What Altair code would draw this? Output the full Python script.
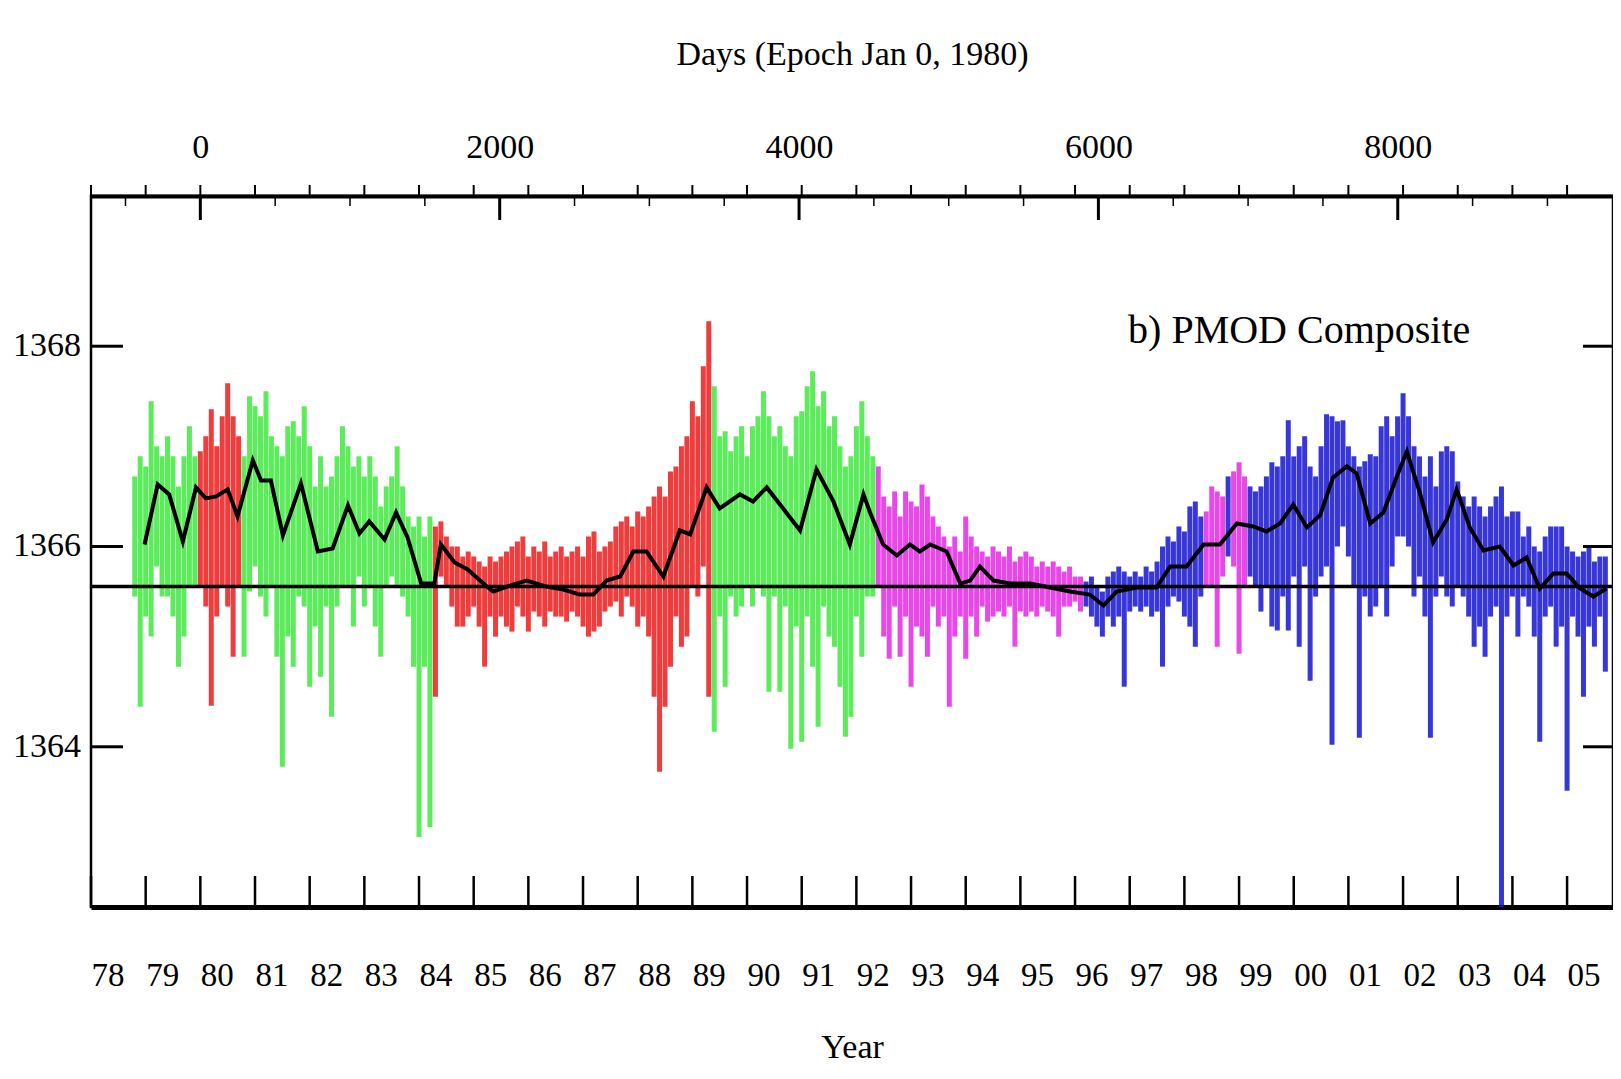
import altair as alt
import pandas as pd

# ---------------- data ----------------
# colored daily data, summarised as 0.1-year bins (start year 1978.8)
hi_vals = [
    1366.7, 1366.9,
    1366.8, 1367.45, 1367.0, 1366.9, 1367.1, 1366.9, 1366.6, 1366.9, 1367.2, 1366.9,      # 1979
    1366.95, 1367.1, 1367.37, 1367.0, 1367.3, 1367.63, 1367.3, 1367.1, 1366.9, 1367.5,    # 1980
    1367.4, 1367.3, 1367.55, 1367.1, 1367.0, 1366.9, 1367.2, 1367.25, 1367.1, 1367.4,     # 1981
    1367.0, 1366.6, 1366.9, 1366.6, 1366.7, 1366.9, 1367.2, 1367.0, 1366.8, 1366.9,       # 1982
    1366.7, 1366.9, 1366.7, 1366.4, 1366.6, 1366.7, 1367.0, 1366.6, 1366.3, 1366.2,       # 1983
    1366.3, 1366.1, 1366.3, 1366.2, 1366.25, 1366.1, 1366.0, 1366.0, 1365.9, 1365.95,     # 1984
    1365.9, 1365.85, 1365.8, 1365.9, 1365.85, 1365.9, 1365.95, 1366.0, 1366.05, 1366.1,   # 1985
    1365.9, 1366.0, 1365.95, 1366.05, 1365.9, 1365.95, 1366.0, 1365.9, 1365.95, 1366.0,   # 1986
    1365.9, 1366.1, 1366.15, 1365.95, 1366.0, 1366.05, 1366.2, 1366.25, 1366.3, 1366.2,   # 1987
    1366.35, 1366.3, 1366.4, 1366.5, 1366.6, 1366.5, 1366.75, 1366.8, 1367.0, 1367.1,     # 1988
    1367.45, 1367.3, 1367.8, 1368.25, 1367.6, 1367.1, 1367.15, 1366.95, 1367.1, 1367.2,   # 1989
    1366.9, 1367.2, 1367.3, 1367.55, 1367.3, 1367.1, 1367.2, 1367.0, 1366.9, 1367.3,      # 1990
    1367.35, 1367.6, 1367.75, 1367.4, 1367.55, 1367.2, 1367.3, 1367.0, 1366.8, 1366.9,    # 1991
    1367.2, 1367.45, 1367.1, 1366.9, 1366.8, 1366.5, 1366.4, 1366.55, 1366.3, 1366.55,    # 1992
    1366.45, 1366.4, 1366.62, 1366.5, 1366.3, 1366.2, 1366.1, 1366.0, 1366.1, 1365.95,   # 1993
    1366.3, 1366.1, 1366.0, 1365.95, 1365.9, 1366.0, 1365.95, 1365.9, 1366.0, 1365.85,    # 1994
    1365.9, 1365.95, 1365.9, 1365.8, 1365.85, 1365.8, 1365.85, 1365.8, 1365.75, 1365.8,   # 1995
    1365.7, 1365.7, 1365.65, 1365.7, 1365.6, 1365.55, 1365.7, 1365.75, 1365.8, 1365.75,   # 1996
    1365.7, 1365.75, 1365.7, 1365.8, 1365.75, 1365.85, 1366.0, 1366.1, 1366.05, 1366.2,   # 1997
    1366.15, 1366.4, 1366.45, 1366.3, 1366.35, 1366.6, 1366.55, 1366.5, 1366.7, 1366.75,  # 1998
    1366.84, 1366.7, 1366.6, 1366.55, 1366.6, 1366.7, 1366.84, 1366.8, 1366.9, 1367.26,  # 1999
    1366.9, 1367.0, 1367.1, 1366.8, 1366.7, 1367.0, 1367.32, 1367.3, 1367.25, 1367.26,    # 2000
    1367.0, 1366.9, 1366.8, 1366.85, 1366.92, 1366.9, 1367.2, 1367.3, 1367.1, 1367.3,     # 2001
    1367.53, 1367.3, 1367.0, 1366.9, 1366.7, 1366.9, 1366.6, 1366.95, 1367.0, 1366.95,    # 2002
    1366.65, 1366.5, 1366.4, 1366.5, 1366.4, 1366.3, 1366.4, 1366.5, 1366.6, 1366.3,      # 2003
    1366.35, 1366.35, 1366.1, 1366.2, 1366.0, 1365.95, 1366.1, 1366.2, 1366.2, 1366.2,    # 2004
    1366.0, 1365.95, 1365.9, 1365.95, 1366.0, 1365.85, 1365.9, 1365.9,                    # 2005
]
lo_vals = [
    1365.5, 1364.4,
    1365.3, 1365.1, 1365.8, 1365.5, 1365.5, 1365.3, 1364.8, 1365.1, 1365.6, 1365.6,
    1365.6, 1365.4, 1364.41, 1365.3, 1365.6, 1365.4, 1364.9, 1365.6, 1364.9, 1365.55,
    1365.8, 1365.5, 1365.3, 1365.6, 1364.9, 1363.8, 1365.1, 1364.8, 1365.5, 1365.4,
    1364.6, 1365.2, 1364.7, 1365.4, 1364.3, 1365.4, 1365.6, 1365.6, 1365.2, 1365.7,
    1365.4, 1365.6, 1365.2, 1364.9, 1365.6, 1365.7, 1365.6, 1365.5, 1365.3, 1364.8,
    1363.1, 1364.8, 1363.2, 1364.5, 1365.7, 1365.6, 1365.4, 1365.2, 1365.2, 1365.3,
    1365.4, 1365.2, 1364.8, 1365.3, 1365.1, 1365.3, 1365.2, 1365.15, 1365.4, 1365.3,
    1365.15, 1365.35, 1365.3, 1365.2, 1365.35, 1365.3, 1365.3, 1365.25, 1365.35, 1365.3,
    1365.2, 1365.1, 1365.15, 1365.2, 1365.35, 1365.4, 1365.45, 1365.3, 1365.5, 1365.4,
    1365.2, 1365.3, 1365.1, 1364.5, 1363.75, 1364.4, 1364.8, 1365.3, 1365.0, 1365.1,
    1365.6, 1365.5, 1365.8, 1364.5, 1364.15, 1365.3, 1364.6, 1365.5, 1365.3, 1365.4,
    1365.6, 1365.4, 1365.6, 1365.5, 1364.55, 1365.5, 1364.55, 1365.4, 1363.98, 1365.2,
    1364.05, 1365.3, 1364.8, 1364.2, 1365.4, 1365.1, 1365.0, 1364.6, 1364.1, 1364.3,
    1365.3, 1364.9, 1365.5, 1365.5, 1365.6, 1365.1, 1364.88, 1365.4, 1364.9, 1365.3,
    1364.6, 1365.2, 1365.1, 1364.9, 1365.4, 1365.2, 1365.3, 1364.4, 1365.1, 1365.3,
    1364.88, 1365.3, 1365.1, 1365.4, 1365.25, 1365.3, 1365.35, 1365.3, 1365.4, 1365.0,
    1365.35, 1365.3, 1365.35, 1365.3, 1365.4, 1365.35, 1365.3, 1365.1, 1365.4, 1365.4,
    1365.45, 1365.35, 1365.4, 1365.3, 1365.2, 1365.1, 1365.3, 1365.2, 1365.3, 1364.6,
    1365.35, 1365.4, 1365.35, 1365.4, 1365.3, 1365.35, 1364.8, 1365.4, 1365.5, 1365.45,
    1365.3, 1365.2, 1365.0, 1365.5, 1365.6, 1365.6, 1365.0, 1365.7, 1365.9, 1365.8,
    1364.93, 1365.6, 1365.7, 1365.6, 1365.35, 1365.6, 1365.2, 1365.16, 1365.5, 1365.16,
    1365.7, 1365.0, 1365.8, 1364.66, 1365.5, 1365.7, 1365.8, 1364.02, 1366.0, 1366.2,
    1365.9, 1365.6, 1364.09, 1365.5, 1365.3, 1365.4, 1365.6, 1365.3, 1365.8, 1366.1,
    1366.1, 1366.0, 1365.5, 1365.7, 1365.3, 1364.09, 1365.5, 1365.7, 1365.5, 1365.4,
    1365.6, 1365.5, 1365.3, 1365.0, 1365.2, 1364.9, 1365.3, 1365.4, 1362.4, 1365.3,
    1365.5, 1365.1, 1365.5, 1365.4, 1365.1, 1364.05, 1365.3, 1365.4, 1365.0, 1365.2,
    1363.56, 1365.3, 1365.1, 1364.5, 1365.2, 1365.0, 1365.3, 1364.75,
]
assert len(hi_vals) == len(lo_vals)
bin_years = [round(1978.8 + 0.1 * i, 2) for i in range(len(hi_vals))]

# instrument segments (start year, colour name)
seg_starts = [1978.8, 1980.05, 1980.85, 1984.35, 1989.45, 1992.45, 1996.15, 1998.45, 1998.85, 1998.95, 1999.15]
seg_names = ["green", "red", "green", "red", "green", "magenta", "blue", "magenta", "blue", "magenta", "blue"]
color_domain = ["green", "red", "magenta", "blue"]
color_range = ["#3ee83e", "#ec1a1a", "#e428e4", "#1414d2"]

# smoothed black curve
smooth_years = [
    1978.98, 1979.22, 1979.43, 1979.68, 1979.92, 1980.10, 1980.29, 1980.50, 1980.68, 1980.96,
    1981.11, 1981.29, 1981.51, 1981.84, 1982.15, 1982.42, 1982.70, 1982.91, 1983.09, 1983.37,
    1983.58, 1983.79, 1984.04, 1984.28, 1984.40, 1984.65, 1984.89, 1985.26, 1985.36, 1985.72,
    1985.97, 1986.33, 1986.64, 1986.94, 1987.19, 1987.43, 1987.68, 1987.92, 1988.16, 1988.47,
    1988.77, 1988.96, 1989.26, 1989.50, 1989.87, 1990.11, 1990.36, 1990.66, 1990.97, 1991.27,
    1991.58, 1991.88, 1992.13, 1992.25, 1992.49, 1992.74, 1992.98, 1993.16, 1993.35, 1993.65,
    1993.90, 1994.08, 1994.26, 1994.51, 1994.81, 1995.18, 1995.54, 1995.91, 1996.27, 1996.52,
    1996.76, 1997.13, 1997.49, 1997.74, 1998.04, 1998.35, 1998.65, 1998.96, 1999.26, 1999.50,
    1999.75, 1999.99, 2000.24, 2000.48, 2000.72, 2000.97, 2001.15, 2001.40, 2001.64, 2001.88,
    2002.07, 2002.31, 2002.55, 2002.80, 2002.98, 2003.22, 2003.47, 2003.77, 2004.02, 2004.26,
    2004.50, 2004.75, 2004.99, 2005.24, 2005.48, 2005.72,
]
smooth_vals = [
    1366.02, 1366.62, 1366.52, 1366.05, 1366.59, 1366.48, 1366.50, 1366.57, 1366.30, 1366.86,
    1366.66, 1366.66, 1366.11, 1366.63, 1365.95, 1365.98, 1366.41, 1366.13, 1366.25, 1366.07,
    1366.34, 1366.09, 1365.63, 1365.63, 1366.02, 1365.84, 1365.77, 1365.59, 1365.55, 1365.62,
    1365.66, 1365.60, 1365.57, 1365.52, 1365.52, 1365.66, 1365.70, 1365.95, 1365.95, 1365.70,
    1366.16, 1366.12, 1366.59, 1366.38, 1366.52, 1366.45, 1366.59, 1366.38, 1366.16, 1366.77,
    1366.45, 1366.02, 1366.52, 1366.34, 1366.02, 1365.91, 1366.02, 1365.95, 1366.02, 1365.95,
    1365.63, 1365.66, 1365.80, 1365.66, 1365.63, 1365.63, 1365.59, 1365.55, 1365.52, 1365.41,
    1365.55, 1365.59, 1365.59, 1365.80, 1365.80, 1366.02, 1366.02, 1366.23, 1366.20, 1366.15,
    1366.23, 1366.42, 1366.19, 1366.31, 1366.69, 1366.80, 1366.73, 1366.23, 1366.34, 1366.69,
    1366.95, 1366.53, 1366.04, 1366.27, 1366.57, 1366.19, 1365.96, 1366.00, 1365.81, 1365.89,
    1365.58, 1365.73, 1365.73, 1365.58, 1365.50, 1365.58,
]

ref_level = [1365.6]
y_ticks = [1364, 1366, 1368]
year_ticks = list(range(1978, 2006))
day_major = [0, 2000, 4000, 6000, 8000]
day_minor = [-500, 500, 1000, 1500, 2500, 3000, 3500, 4500, 5000, 5500, 6500, 7000, 7500, 8500, 9000]
label_text = ["b) PMOD Composite"]
label_year = [2000.1]
label_value = [1368.15]

# ---------------- tables ----------------
def seg_of(y):
    c = y + 0.05
    name = seg_names[0]
    for s, n in zip(seg_starts, seg_names):
        if c >= s:
            name = n
    return name

bins_df = pd.DataFrame({"year": bin_years, "lo": lo_vals, "hi": hi_vals,
                        "seg": [seg_of(y) for y in bin_years]})
smooth_df = pd.DataFrame({"year": smooth_years, "val": smooth_vals})
ref_df = pd.DataFrame({"v": ref_level})
yt_df = pd.DataFrame({"v": y_ticks})
yr_df = pd.DataFrame({"year": year_ticks})
dmaj_df = pd.DataFrame({"day": day_major})
dmin_df = pd.DataFrame({"day": day_minor})
lab_df = pd.DataFrame({"t": label_text, "year": label_year, "val": label_value})

W, H = 1522, 711
FONT = "Liberation Serif"
xs = alt.Scale(domain=[1978, 2005.84], nice=False, zero=False)
ys = alt.Scale(domain=[1362.4, 1369.5], nice=False, zero=False)

bottom_axis = alt.Axis(orient="bottom", values=year_ticks,
                       labelExpr="(datum.value % 100 < 10 ? '0' : '') + (datum.value % 100)",
                       labelAlign="left", labelBaseline="alphabetic", labelPadding=78,
                       labelFontSize=33, labelOverlap=False, labelFlush=False,
                       ticks=False, tickSize=0, grid=False, domainWidth=5,
                       title="Year", titleFontSize=34, titleY=150, titleBaseline="alphabetic")
top_axis = alt.Axis(orient="top", values=[1980 + d / 365.25 for d in day_major],
                    labelExpr="format(round((datum.value - 1980) * 365.25), 'd')",
                    labelBaseline="alphabetic", labelPadding=39, labelFontSize=34,
                    labelOverlap=False, labelFlush=False,
                    ticks=False, tickSize=0, grid=False, domainWidth=4,
                    title="Days (Epoch Jan 0, 1980)", titleFontSize=34, titleY=-132,
                    titleBaseline="alphabetic")

bins = alt.Chart(bins_df).mark_rule(strokeWidth=5, opacity=0.85).encode(
    x=alt.X("year:Q", scale=xs, axis=bottom_axis),
    y=alt.Y("lo:Q", scale=ys, axis=None),
    y2="hi:Q",
    color=alt.Color("seg:N", scale=alt.Scale(domain=color_domain, range=color_range), legend=None),
)

ref = alt.Chart(ref_df).mark_rule(color="black", strokeWidth=3.5).encode(
    y=alt.Y("v:Q", scale=ys, axis=None))

smooth = alt.Chart(smooth_df).mark_line(color="black", strokeWidth=4).encode(
    x=alt.X("year:Q", scale=xs, axis=None),
    y=alt.Y("val:Q", scale=ys, axis=None))

left_ticks = alt.Chart(yt_df).mark_rule(color="black", strokeWidth=3).encode(
    y=alt.Y("v:Q", scale=ys, axis=None), x=alt.value(0), x2=alt.value(32))
right_ticks = alt.Chart(yt_df).mark_rule(color="black", strokeWidth=3).encode(
    y=alt.Y("v:Q", scale=ys, axis=None), x=alt.value(W - 30), x2=alt.value(W))
left_labels = alt.Chart(yt_df).mark_text(font=FONT, fontSize=34, align="right",
                                         baseline="middle", color="black").encode(
    y=alt.Y("v:Q", scale=ys, axis=None), x=alt.value(-10),
    text=alt.Text("v:Q", format="d"))

bottom_ticks = alt.Chart(yr_df).mark_rule(color="black", strokeWidth=2.5).encode(
    x=alt.X("year:Q", scale=xs, axis=None), y=alt.value(H), y2=alt.value(H - 31))
top_year_ticks = alt.Chart(yr_df).mark_rule(color="black", strokeWidth=2).encode(
    x=alt.X("year:Q", scale=xs, axis=top_axis), y=alt.value(0), y2=alt.value(-11))
day_major_ticks = alt.Chart(dmaj_df).transform_calculate(
    yr="1980 + datum.day / 365.25").mark_rule(color="black", strokeWidth=3).encode(
    x=alt.X("yr:Q", scale=xs, axis=None), y=alt.value(0), y2=alt.value(24))
day_minor_ticks = alt.Chart(dmin_df).transform_calculate(
    yr="1980 + datum.day / 365.25").mark_rule(color="black", strokeWidth=1.5).encode(
    x=alt.X("yr:Q", scale=xs, axis=None), y=alt.value(0), y2=alt.value(10))

label = alt.Chart(lab_df).mark_text(font=FONT, fontSize=40, align="center",
                                    baseline="middle", color="black").encode(
    x=alt.X("year:Q", scale=xs, axis=None),
    y=alt.Y("val:Q", scale=ys, axis=None),
    text="t:N")

chart = alt.layer(
    bins, ref, smooth, left_ticks, right_ticks, left_labels, bottom_ticks, top_year_ticks,
    day_major_ticks, day_minor_ticks, label
).resolve_axis(x="independent").properties(
    width=W, height=H,
    autosize=alt.AutoSizeParams(type="none"),
    padding={"left": 83, "top": 188, "right": 0, "bottom": 164},
    background="white",
).configure_view(
    stroke="black", strokeWidth=2.5
).configure_axis(
    labelFont=FONT, titleFont=FONT, labelColor="black", titleColor="black",
    domainColor="black", titleFontWeight="normal",
)

chart.save("out.html", embed_options={"renderer": "svg", "actions": False})
